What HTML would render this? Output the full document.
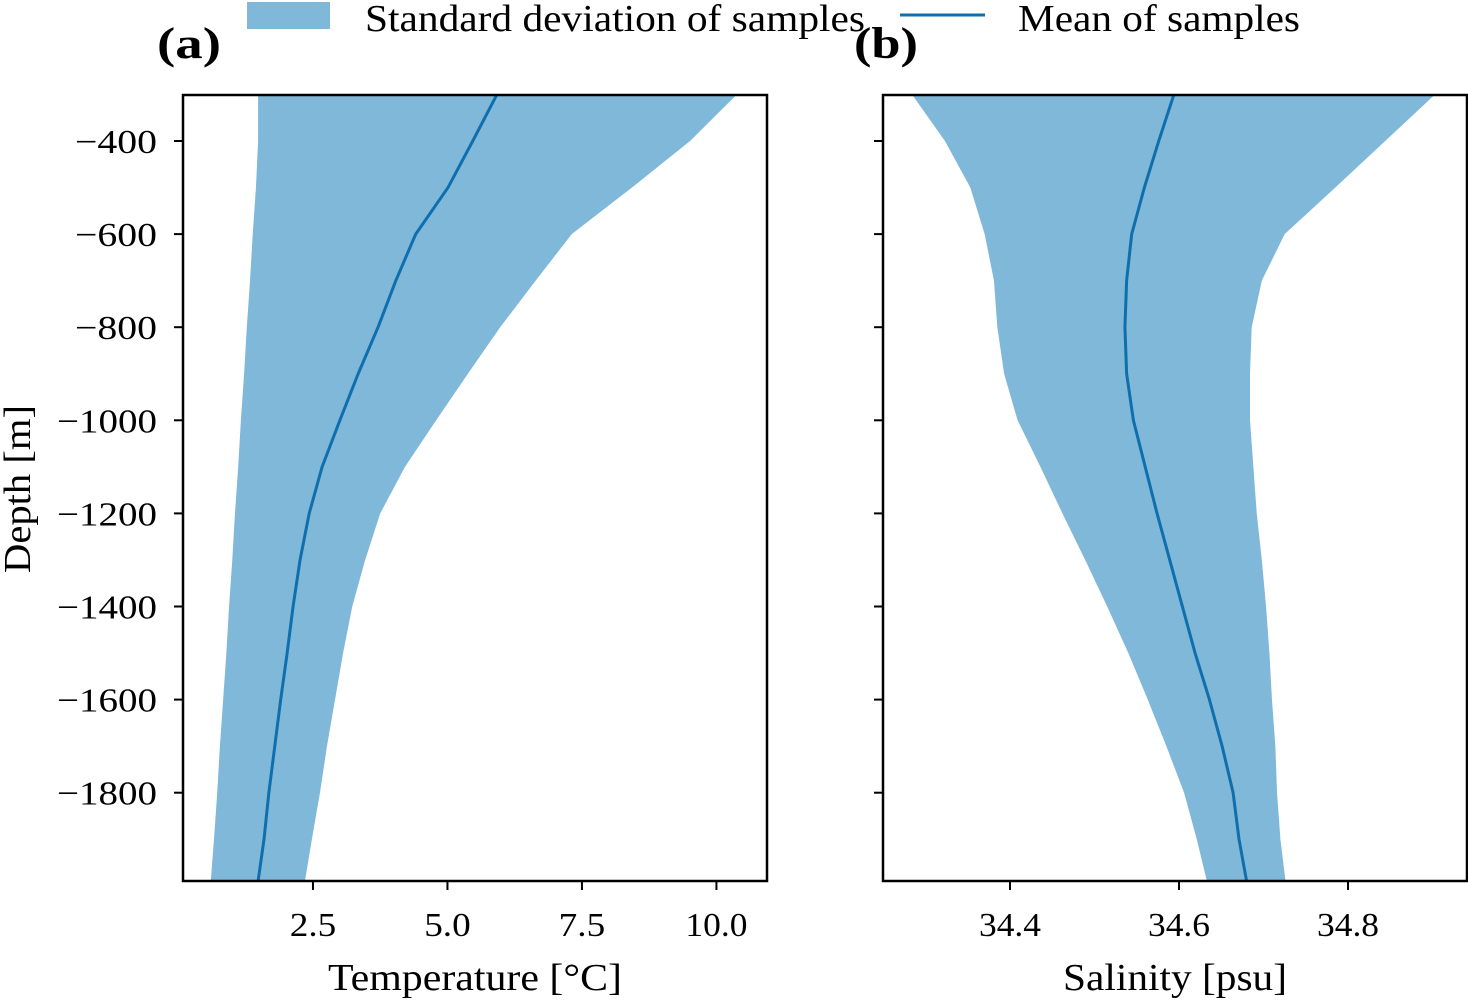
<!DOCTYPE html>
<html><head><meta charset="utf-8"><style>
body{margin:0;background:#fff}
svg{display:block;font-family:"Liberation Serif",serif}
</style></head><body>
<svg id="c" width="1468" height="1000"></svg>
<script>
const depths=[-300,-400,-500,-600,-700,-800,-900,-1000,-1100,-1200,-1300,-1400,-1500,-1600,-1700,-1800,-1900,-1990];
const tempMean=[5.92,5.47,5.01,4.41,4.04,3.71,3.34,3.00,2.67,2.43,2.26,2.13,2.02,1.90,1.79,1.68,1.59,1.48];
const tempLow=[1.48,1.48,1.44,1.38,1.33,1.27,1.22,1.16,1.11,1.05,1.00,0.94,0.89,0.83,0.77,0.72,0.66,0.60];
const tempHigh=[10.38,9.51,8.43,7.31,6.64,5.98,5.38,4.79,4.21,3.75,3.47,3.23,3.06,2.91,2.76,2.63,2.48,2.35];
const salMean=[34.594,34.576,34.559,34.544,34.538,34.536,34.538,34.546,34.560,34.574,34.589,34.604,34.619,34.636,34.651,34.664,34.671,34.680];
const salLow=[34.284,34.323,34.353,34.370,34.381,34.385,34.393,34.409,34.436,34.462,34.489,34.515,34.540,34.563,34.585,34.606,34.621,34.633];
const salHigh=[34.903,34.844,34.785,34.725,34.698,34.686,34.684,34.684,34.688,34.692,34.698,34.703,34.707,34.710,34.714,34.716,34.720,34.726];
const depthTicks=[-400,-600,-800,-1000,-1200,-1400,-1600,-1800];
const tempTicks=[2.5,5.0,7.5,10.0];
const tempTickLabels=["2.5","5.0","7.5","10.0"];
const salTicks=[34.4,34.6,34.8];
const salTickLabels=["34.4","34.6","34.8"];

const svg=document.getElementById('c');
const NS='http://www.w3.org/2000/svg';
function mk(tag,attrs,parent){const e=document.createElementNS(NS,tag);for(const k in attrs)e.setAttribute(k,attrs[k]);(parent||svg).appendChild(e);return e;}
const yTop=95,yBot=881;
const Y=d=>141+(-400-d)/200*93.1;

function panel(name,x0,x1,xmin,xmax,mean,low,high,ticks,labels,showY,title,titleLen,tag,tagX){
  const X=v=>x0+(v-xmin)/(xmax-xmin)*(x1-x0);
  const g=mk('g',{});
  
  
  let p='';
  depths.forEach((d,i)=>{p+=(i?'L':'M')+X(low[i])+','+Y(d);});
  for(let i=depths.length-1;i>=0;i--)p+='L'+X(high[i])+','+Y(depths[i]);
  const clip=mk('clipPath',{id:'cl'+name},g);
  mk('rect',{x:x0,y:yTop,width:x1-x0,height:yBot-yTop},clip);
  const band=mk('path',{d:p+'Z',fill:'#80b8d9','stroke-linejoin':'round','clip-path':'url(#cl'+name+')'},g);
  
  
  let l='';
  depths.forEach((d,i)=>{l+=(i?'L':'M')+X(mean[i])+','+Y(d);});
  const line=mk('path',{d:l,fill:'none',stroke:'#0f6fae','stroke-width':3,'stroke-linejoin':'round','clip-path':'url(#cl'+name+')'},g);
  
  
  mk('rect',{x:x0,y:yTop,width:x1-x0,height:yBot-yTop,fill:'none',stroke:'#000','stroke-width':2.5},g);
  ticks.forEach((t,i)=>{
    const x=X(t);
    mk('line',{x1:x,x2:x,y1:yBot,y2:yBot+9,stroke:'#000','stroke-width':2},g);
    const tx=mk('text',{x:x,y:yBot+55,'font-size':34,'text-anchor':'middle',textLength:labels[i].length*15.5,lengthAdjust:'spacingAndGlyphs'},g);
    tx.textContent=labels[i];
    
    
  });
  depthTicks.forEach(d=>{
    const y=Y(d);
    mk('line',{x1:x0-9,x2:x0,y1:y,y2:y,stroke:'#000','stroke-width':2},g);
    if(showY){
      const s='\u2212'+Math.abs(d);
      const tx=mk('text',{x:x0-26,y:y+12,'font-size':34,'text-anchor':'end',textLength:s.length===5?100:82,lengthAdjust:'spacingAndGlyphs'},g);
      tx.textContent=s;
      
      
    }
  });
  const tt=mk('text',{x:(x0+x1)/2,y:990,'font-size':38,'text-anchor':'middle',textLength:titleLen,lengthAdjust:'spacingAndGlyphs'},g);
  tt.textContent=title;
  
  
  const tg=mk('text',{x:tagX,y:58,'font-size':44,'font-weight':'bold',textLength:64,lengthAdjust:'spacingAndGlyphs'},g);
  tg.textContent=tag;
  
  
}
panel('panel-temperature',183,767,0.084,10.94,tempMean,tempLow,tempHigh,tempTicks,tempTickLabels,true,'Temperature [\u00B0C]',294,'(a)',157);
panel('panel-salinity',883,1467,34.2497,34.9408,salMean,salLow,salHigh,salTicks,salTickLabels,false,'Salinity [psu]',224,'(b)',854);

const yt=mk('text',{x:0,y:0,'font-size':38,'text-anchor':'middle',textLength:168,lengthAdjust:'spacingAndGlyphs',transform:'translate(30,489) rotate(-90)'});
yt.textContent='Depth [m]';



const lg=mk('g',{});


mk('rect',{x:247,y:2,width:83,height:27,fill:'#80b8d9'},lg);
const t1=mk('text',{x:365,y:31,'font-size':38,textLength:500,lengthAdjust:'spacingAndGlyphs'},lg);t1.textContent='Standard deviation of samples';


mk('line',{x1:900,x2:985,y1:15,y2:15,stroke:'#0f6fae','stroke-width':3},lg);
const t2=mk('text',{x:1018,y:31,'font-size':38,textLength:282,lengthAdjust:'spacingAndGlyphs'},lg);t2.textContent='Mean of samples';


</script>
</body></html>
